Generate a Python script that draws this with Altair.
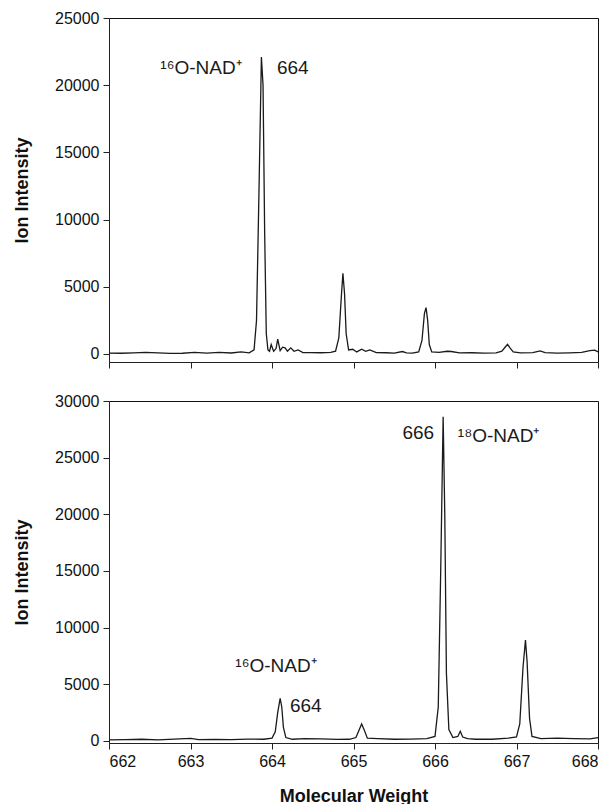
import altair as alt
import pandas as pd

# ---- data ----
top_mw = [662.00, 662.15, 662.30, 662.45, 662.60, 662.75, 662.90, 663.05, 663.20, 663.35,
          663.50, 663.62, 663.72, 663.78, 663.81, 663.84, 663.87, 663.89, 663.91, 663.93,
          663.95, 663.97, 663.99, 664.02, 664.05, 664.07, 664.10, 664.13, 664.16, 664.19,
          664.23, 664.27, 664.32, 664.38, 664.48, 664.60, 664.72, 664.78, 664.82, 664.85,
          664.87, 664.89, 664.91, 664.94, 664.99, 665.04, 665.10, 665.15, 665.20, 665.28,
          665.40, 665.50, 665.60, 665.65, 665.72, 665.80, 665.84, 665.87, 665.89, 665.91,
          665.93, 665.96, 666.05, 666.15, 666.20, 666.30, 666.45, 666.60, 666.75, 666.82,
          666.86, 666.89, 666.92, 666.96, 667.05, 667.20, 667.29, 667.35, 667.50, 667.65,
          667.80, 667.90, 667.96, 668.00]
top_int = [60, 50, 80, 120, 80, 40, 50, 110, 60, 120,
           70, 150, 80, 300, 2500, 12000, 22100, 20000, 9000, 1500,
           300, 200, 700, 200, 400, 1100, 250, 500, 450, 200,
           450, 200, 300, 100, 100, 90, 120, 200, 1200, 4200,
           6000, 4500, 1500, 300, 350, 150, 350, 200, 300, 100,
           90, 60, 180, 80, 60, 150, 1000, 3000, 3450, 2500,
           700, 150, 120, 200, 180, 80, 90, 60, 80, 200,
           500, 720, 450, 150, 80, 100, 230, 90, 60, 80,
           120, 250, 280, 150]

bot_mw = [662.00, 662.20, 662.40, 662.60, 662.80, 663.00, 663.10, 663.30, 663.50, 663.70,
          663.90, 664.00, 664.04, 664.07, 664.10, 664.12, 664.14, 664.17, 664.25, 664.40,
          664.60, 664.80, 664.95, 665.03, 665.07, 665.10, 665.13, 665.17, 665.30, 665.50,
          665.70, 665.90, 666.00, 666.04, 666.07, 666.10, 666.12, 666.14, 666.17, 666.22,
          666.28, 666.31, 666.34, 666.40, 666.50, 666.70, 666.90, 667.00, 667.04, 667.08,
          667.11, 667.13, 667.16, 667.19, 667.30, 667.50, 667.70, 667.90, 668.00]
bot_int = [100, 120, 150, 100, 170, 220, 120, 140, 110, 160,
           150, 250, 800, 2500, 3750, 3000, 1200, 300, 150, 200,
           180, 140, 150, 300, 1000, 1500, 1000, 250, 200, 150,
           170, 200, 400, 3000, 15000, 28600, 20000, 6000, 1000, 300,
           400, 850, 350, 200, 150, 150, 250, 350, 1500, 6500,
           8900, 7000, 2000, 400, 200, 250, 200, 180, 300]

top_labels = ["¹⁶O-NAD⁺", "664"]
top_label_mw = [662.63, 664.06]
top_label_int = [21300, 21300]

bot_labels = ["666", "¹⁸O-NAD⁺", "¹⁶O-NAD⁺", "664"]
bot_label_mw = [665.60, 666.28, 663.55, 664.22]
bot_label_int = [27180, 26900, 6600, 3090]

x_ticks = [662, 663, 664, 665, 666, 667, 668]
top_y_ticks = [0, 5000, 10000, 15000, 20000, 25000]
bot_y_ticks = [0, 5000, 10000, 15000, 20000, 25000, 30000]

# ---- tables ----
top_df = pd.DataFrame({"mw": top_mw, "intensity": top_int})
bot_df = pd.DataFrame({"mw": bot_mw, "intensity": bot_int})
top_lab = pd.DataFrame({"mw": top_label_mw, "intensity": top_label_int, "label": top_labels})
bot_lab = pd.DataFrame({"mw": bot_label_mw, "intensity": bot_label_int, "label": bot_labels})

W = 489
FONT = "Liberation Sans"


def panel(df, lab, ydom, yticks, h, show_x):
    xaxis = alt.Axis(values=x_ticks, labels=show_x, title="Molecular Weight" if show_x else None,
                     tickSize=6, labelPadding=4, titlePadding=18, format="d")
    x = alt.X("mw:Q", scale=alt.Scale(domain=[662, 668], nice=False, zero=False), axis=xaxis)
    y = alt.Y("intensity:Q", scale=alt.Scale(domain=ydom, nice=False, zero=False),
              axis=alt.Axis(values=yticks, title="Ion Intensity", tickSize=6, labelPadding=4,
                            titlePadding=23, format="d"))
    line = alt.Chart(df).mark_line(color="#1a1a1a", strokeWidth=1.3, interpolate="linear").encode(x=x, y=y)
    text = alt.Chart(lab).mark_text(align="left", baseline="middle", font=FONT, fontSize=19,
                                    color="#1a1a1a").encode(
        x=alt.X("mw:Q"), y=alt.Y("intensity:Q"), text="label:N")
    return alt.layer(line, text).properties(width=W, height=h)


top = panel(top_df, top_lab, [-600, 25000], top_y_ticks, 344, False)
bot = panel(bot_df, bot_lab, [-180, 30000], bot_y_ticks, 342, True)

chart = alt.vconcat(top, bot, spacing=23).properties(
    padding={"left": 5, "top": 1, "right": 5, "bottom": 0}
).configure_view(stroke="#111", strokeWidth=1).configure_axis(
    grid=False, domainColor="#222", tickColor="#222", labelColor="#111", titleColor="#111",
    labelFont=FONT, titleFont=FONT, labelFontSize=16, titleFontSize=18, titleFontWeight="bold",
    domainWidth=1, tickWidth=1
)

chart.save("out.html", embed_options={"renderer": "svg", "actions": False})
